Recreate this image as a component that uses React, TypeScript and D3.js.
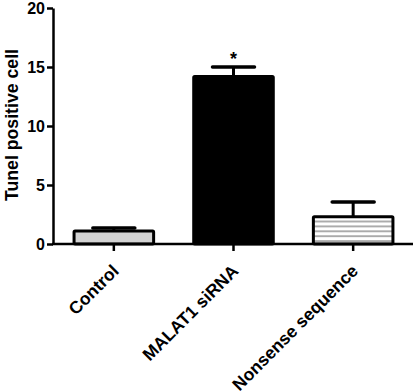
import { useEffect, useRef } from "react";
import * as d3 from "d3";

const categories = ["Control", "MALAT1 siRNA", "Nonsense sequence"];
const means = [1.1, 14.2, 2.3];
const errors = [0.26, 0.8, 1.25];
const yTicks = [0, 5, 10, 15, 20];
const marks = ["", "*", ""];

const App = () => {
  const ref = useRef<SVGSVGElement>(null);

  useEffect(() => {
    const svg = d3.select(ref.current);
    svg.selectAll("*").remove();

    const x = d3.scaleBand().domain(categories).range([57, 410]).paddingInner(0.31).paddingOuter(0.13);
    const y = d3.scaleLinear().domain([0, 20]).range([244, 8]);

    const defs = svg.append("defs");
    const pat = defs.append("pattern")
      .attr("id", "hatch").attr("patternUnits", "userSpaceOnUse")
      .attr("width", 10).attr("height", 4.9);
    pat.append("rect").attr("width", 10).attr("height", 4.9).attr("fill", "#fff");
    pat.append("line").attr("x1", 0).attr("x2", 10).attr("y1", 1).attr("y2", 1)
      .attr("stroke", "#777").attr("stroke-width", 1.2);

    const fills = ["#d3d3d3", "#000", "url(#hatch)"];
    const font = "Arial, 'Liberation Sans', sans-serif";

    // error bars
    const g = svg.append("g");
    categories.forEach((c, i) => {
      const cx = x(c)! + x.bandwidth() / 2;
      g.append("line").attr("x1", cx).attr("x2", cx)
        .attr("y1", y(means[i])).attr("y2", y(means[i] + errors[i]))
        .attr("stroke", "#000").attr("stroke-width", 3);
      g.append("line").attr("x1", cx - 21).attr("x2", cx + 21)
        .attr("y1", y(means[i] + errors[i])).attr("y2", y(means[i] + errors[i]))
        .attr("stroke", "#000").attr("stroke-width", 3.5).attr("stroke-linecap", "round");
    });

    // bars
    svg.append("g").selectAll("rect").data(categories).enter().append("rect")
      .attr("x", (d) => x(d)! + 1.5)
      .attr("y", (d, i) => y(means[i]))
      .attr("width", x.bandwidth() - 3)
      .attr("height", (d, i) => y(0) - y(means[i]))
      .attr("fill", (d, i) => fills[i])
      .attr("stroke", "#000").attr("stroke-width", 3)
      .attr("rx", 1);

    // significance mark
    svg.append("g").selectAll("text").data(categories).enter().append("text")
      .attr("x", (d) => x(d)! + x.bandwidth() / 2)
      .attr("y", (d, i) => y(means[i] + errors[i]) - 2)
      .attr("text-anchor", "middle")
      .attr("font-family", font).attr("font-weight", "bold").attr("font-size", 18)
      .text((d, i) => marks[i]);

    // y axis
    const ya = svg.append("g").attr("transform", "translate(53,0)")
      .call(d3.axisLeft(y).tickValues(yTicks).tickSize(6).tickSizeOuter(0));
    ya.select(".domain").attr("stroke-width", 2.5);
    ya.selectAll(".tick line").attr("stroke-width", 2.5);
    ya.selectAll(".tick text").attr("font-family", font).attr("font-weight", "bold")
      .attr("font-size", 16).attr("fill", "#000").attr("dx", 1).attr("dy", "0.36em");

    // x axis
    const xa = svg.append("g").attr("transform", "translate(0,244)");
    xa.append("line").attr("x1", 52).attr("x2", 413).attr("stroke", "#000").attr("stroke-width", 2.5);
    categories.forEach((c) => {
      const cx = x(c)! + x.bandwidth() / 2;
      xa.append("line").attr("x1", cx).attr("x2", cx).attr("y1", 0).attr("y2", 7)
        .attr("stroke", "#000").attr("stroke-width", 2.5);
      xa.append("text")
        .attr("transform", `translate(${cx + 6},${28}) rotate(-45)`)
        .attr("text-anchor", "end")
        .attr("font-family", font).attr("font-weight", "bold").attr("font-size", 17.5)
        .text(c);
    });

    // y label
    svg.append("text")
      .attr("transform", "translate(18,125) rotate(-90)")
      .attr("text-anchor", "middle")
      .attr("font-family", font).attr("font-weight", "bold").attr("font-size", 17.7)
      .text("Tunel positive cell");
  }, []);

  return (
    <svg ref={ref} width={413} height={392}
      style={{ position: "absolute", left: 0, top: 0, background: "#fff" }} />
  );
};

export default App;
